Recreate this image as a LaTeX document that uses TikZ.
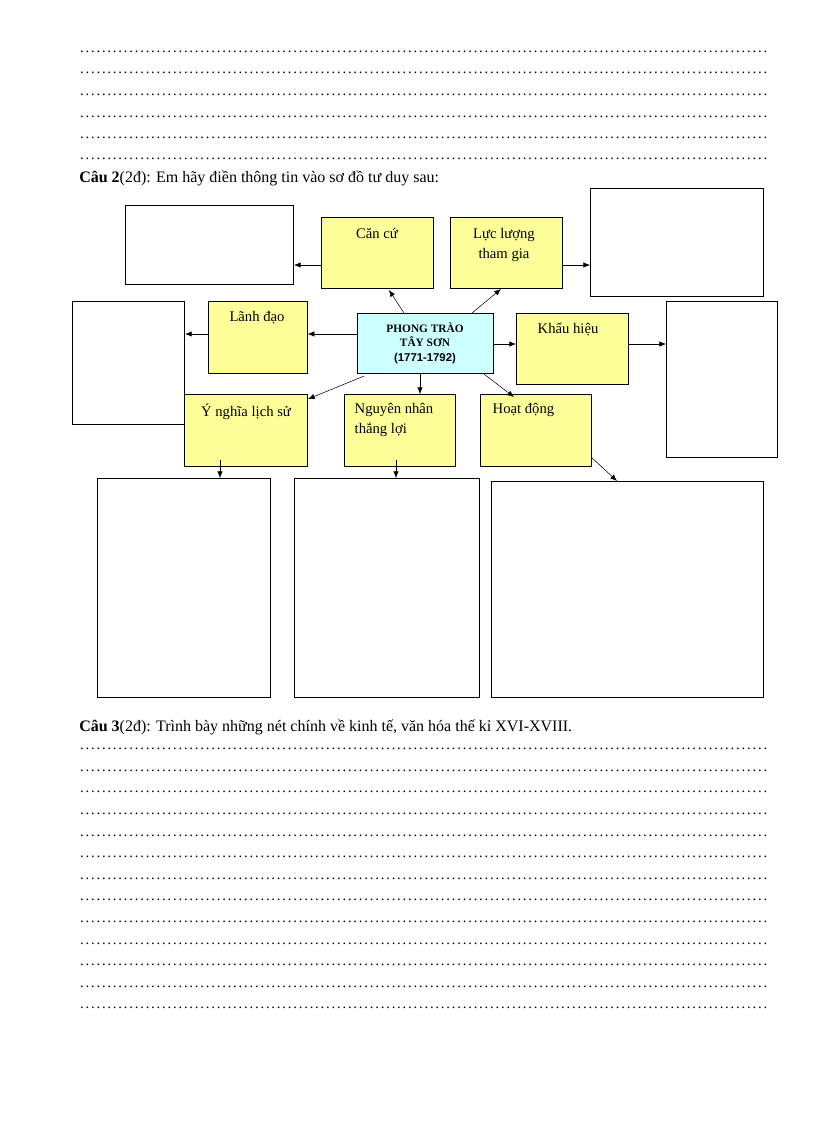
\documentclass[tikz,border=0pt]{standalone}
\usepackage{fontspec}
\setmainfont{Liberation Serif}
\newfontfamily\arialf{Liberation Sans}
\usetikzlibrary{arrows.meta}
\definecolor{yel}{HTML}{FFFF99}
\definecolor{cya}{HTML}{CCFFFF}
\newcommand{\dotrow}{\leaders\hbox to 4.1pt{\hss.\hss}\hfill}
\begin{document}
\begin{tikzpicture}[x=0.75pt,y=-0.75pt,
  wbox/.style={draw,thick,fill=white},
  ybox/.style={draw,thick,fill=yel},
  lbl/.style={font=\fontsize{11}{13}\selectfont,align=center,anchor=north},
  arr/.style={-{Latex[length=5pt,width=4pt]},thin},
  dline/.style={anchor=west,inner sep=0pt,font=\fontsize{11}{12}\selectfont}]
\useasboundingbox[fill=white] (0,0) rectangle (816,1123);
% dotted lines top
\foreach \i/\yy in {1/52,2/73,3/95,4/117,5/138,6/159}{
  \node[dline] (t\i) at (79,\yy) {\hbox to 518pt{\dotrow}};}
\node[anchor=west,inner sep=0pt,font=\fontsize{12}{14}\selectfont] (q2) at (79,178) {\textbf{Câu 2}(2đ): Em hãy điền thông tin vào sơ đồ tư duy sau:};
% boxes
\node[wbox,minimum width=126pt,minimum height=59pt,anchor=north west] (WTL) at (125,205) {};
\node[wbox,minimum width=130pt,minimum height=81pt,anchor=north west] (WTR) at (590,188) {};
\node[wbox,minimum width=84pt,minimum height=92pt,anchor=north west] (WL) at (72,301) {};
\node[wbox,minimum width=83pt,minimum height=117pt,anchor=north west] (WR) at (666,301) {};
\node[wbox,minimum width=130pt,minimum height=164pt,anchor=north west] (B1) at (97,478) {};
\node[wbox,minimum width=139pt,minimum height=164pt,anchor=north west] (B2) at (294,478) {};
\node[wbox,minimum width=204pt,minimum height=162pt,anchor=north west] (B3) at (491,481) {};
\node[ybox,minimum width=84pt,minimum height=53pt,anchor=north west] (CC) at (321,217) {};
\node[lbl] at (377,224) {Căn cứ};
\node[ybox,minimum width=84pt,minimum height=53pt,anchor=north west] (LL) at (450,217) {};
\node[lbl] at (504,224) {Lực lượng\\[2pt]tham gia};
\node[ybox,minimum width=74pt,minimum height=54pt,anchor=north west] (LD) at (208,301) {};
\node[lbl] at (257,307) {Lãnh đạo};
\node[ybox,minimum width=84pt,minimum height=53pt,anchor=north west] (KH) at (516,313) {};
\node[lbl] at (568,318) {Khẩu hiệu};
\node[ybox,minimum width=92pt,minimum height=54pt,anchor=north west] (YN) at (184,394) {};
\node[lbl] at (246,399) {Ý nghĩa lịch sử};
\node[ybox,minimum width=83pt,minimum height=54pt,anchor=north west] (NN) at (344,394) {};
\node[lbl,align=left,anchor=north west] at (350,399) {Nguyên nhân\\[2pt]thắng lợi};
\node[ybox,minimum width=83pt,minimum height=54pt,anchor=north west] (HD) at (480,394) {};
\node[lbl,anchor=north west] at (488,399) {Hoạt động};
\node[draw,thick,fill=cya,minimum width=102pt,minimum height=45pt,anchor=north west] (C) at (357,313) {};
\node[align=center,font=\bfseries\fontsize{8.5}{11}\selectfont] at (425,343) {PHONG TRÀO\\TÂY SƠN\\{\arialf(1771-1792)}};
% arrows
\draw[arr] (CC.west |- 0,265) -- (WTL.east |- 0,265);
\draw[arr] (LL.east |- 0,265) -- (WTR.west |- 0,265);
\draw[arr] (C.north west) ++(47,0) -- (389,290);
\draw[arr] (C.north west) ++(115,0) -- (501,289);
\draw[arr] (C.west |- 0,334) -- (LD.east |- 0,334);
\draw[arr] (LD.west |- 0,334) -- (WL.east |- 0,334);
\draw[arr] (C.east |- 0,344) -- (KH.west |- 0,344);
\draw[arr] (KH.east |- 0,344) -- (WR.west |- 0,344);
\draw[arr] (C.south west) ++(7,2) -- (308,399);
\draw[arr] (C.south -| 420,0) -- (NN.north -| 420,0);
\draw[arr] (C.south west) ++(127,0) -- (514,397);
\draw[arr] (220,460) -- (B1.north -| 220,0);
\draw[arr] (396,460) -- (B2.north -| 396,0);
\draw[arr] (591,457) -- (617,481);
\node[anchor=west,inner sep=0pt,font=\fontsize{12}{14}\selectfont] (q3) at (79,727) {\textbf{Câu 3}(2đ): Trình bày những nét chính về kinh tế, văn hóa thế kỉ XVI-XVIII.};
\foreach \i in {0,...,12}{
  \node[dline] (b\i) at (79,{749+\i*21.6}) {\hbox to 518pt{\dotrow}};}
\end{tikzpicture}
\end{document}
